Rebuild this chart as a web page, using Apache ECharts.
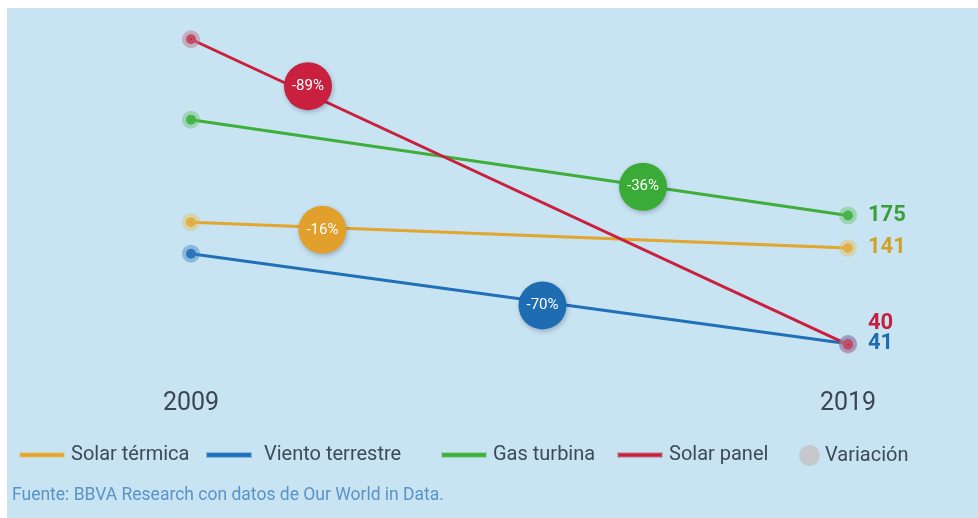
<!DOCTYPE html>
<html>
<head>
<meta charset="utf-8">
<script src="https://cdn.jsdelivr.net/npm/echarts@6/dist/echarts.min.js"></script>
<style>
html,body{margin:0;padding:0;background:#fff;}
#chart{width:978px;height:518px;}
</style>
</head>
<body>
<div id="chart"></div>
<script>
// ---- data ----
const years = [2009, 2019];
const solarTermica = [168, 141];
const vientoTerrestre = [135, 41];
const gasTurbina = [275, 175];
const solarPanel = [359, 40];
// variation bubbles: position along the x scale (year), y value, label
const variacionX = [2011.0, 2014.35, 2015.88, 2010.78];
const variacionY = [160, 81, 205, 310];
const variacionLabels = ['-16%', '-70%', '-36%', '-89%'];
const sourceText = 'Fuente: BBVA Research con datos de Our World in Data.';

const FONT = 'Roboto';
const colors = {
  'Solar térmica': '#e2a52e',
  'Viento terrestre': '#2170b7',
  'Gas turbina': '#3fae3b',
  'Solar panel': '#c9203f'
};
const halo = {
  'Solar térmica': 'rgba(226,190,100,0.45)',
  'Viento terrestre': 'rgba(60,130,200,0.45)',
  'Gas turbina': 'rgba(90,190,90,0.4)',
  'Solar panel': 'rgba(190,120,140,0.5)'
};
const labelColors = {
  'Solar térmica': '#d1a229',
  'Viento terrestre': '#1f6db0',
  'Gas turbina': '#3b9e3b',
  'Solar panel': '#c51f40'
};
const bubbleColors = ['#e0a02b', '#1e6db3', '#3aab36', '#c8203e'];

function lineSeries(name, vals, labelOffset) {
  return {
    name: name,
    type: 'line',
    data: years.map((y, i) => [y, vals[i]]),
    lineStyle: { color: colors[name], width: 3 },
    itemStyle: { color: colors[name], borderColor: halo[name], borderWidth: 8 },
    symbol: 'circle',
    symbolSize: 10,
    showSymbol: true,
    z: 3,
    endLabel: {
      show: true,
      formatter: p => p.value[1],
      color: labelColors[name],
      fontFamily: FONT,
      fontWeight: 'bold',
      fontSize: 22,
      distance: 20,
      offset: labelOffset || [0, 0]
    },
    emphasis: { disabled: true }
  };
}

const chart = echarts.init(document.getElementById('chart'), null, { renderer: 'canvas' });
const legendNames = ['Solar térmica', 'Viento terrestre', 'Gas turbina', 'Solar panel'];
const legendLefts = [14, 201, 436, 612];
const legends = legendNames.map((n, i) => ({
  data: [n],
  left: legendLefts[i],
  top: 440,
  icon: 'rect',
  itemWidth: 44,
  itemHeight: 4,
  itemGap: 8,
  textStyle: { color: '#3d4a57', fontFamily: FONT, fontSize: 20, padding: [0, 0, 0, i === 1 ? 8 : 2] }
}));
legends.push({
  data: ['Variación'],
  left: 794,
  top: 440,
  icon: 'circle',
  itemWidth: 21,
  itemHeight: 21,
  textStyle: { color: '#3d4a57', fontFamily: FONT, fontSize: 20 }
});

chart.setOption({
  backgroundColor: '#ffffff',
  animation: false,
  graphic: [
    { type: 'rect', left: 7, top: 8, shape: { width: 971, height: 510 }, style: { fill: '#c8e4f2' }, z: -10, silent: true },
    { type: 'text', left: 12, top: 487, style: { text: sourceText, fill: '#5a93c6', font: '17.5px ' + FONT }, silent: true }
  ],
  grid: { left: 191, right: 130, top: 0, height: 383 },
  legend: legends,
  xAxis: {
    type: 'value',
    min: 2009,
    max: 2019,
    interval: 1,
    axisLine: { show: false },
    axisTick: { show: false },
    splitLine: { show: false },
    axisLabel: {
      margin: 8,
      color: '#3b4652',
      fontFamily: FONT,
      fontSize: 25,
      formatter: v => (v === years[0] || v === years[1]) ? String(v) : ''
    }
  },
  yAxis: {
    type: 'value',
    min: 0,
    max: 400,
    show: false,
    splitLine: { show: false }
  },
  series: [
    lineSeries('Solar térmica', solarTermica),
    lineSeries('Viento terrestre', vientoTerrestre),
    lineSeries('Gas turbina', gasTurbina),
    lineSeries('Solar panel', solarPanel, [0, -21]),
    {
      name: 'Variación',
      type: 'scatter',
      symbol: 'circle',
      symbolSize: 48,
      z: 5,
      itemStyle: { color: '#c5c8cc', opacity: 1 },
      data: variacionX.map((x, i) => ({
        value: [x, variacionY[i]],
        itemStyle: {
          color: bubbleColors[i],
          opacity: 1,
          shadowBlur: 5,
          shadowColor: 'rgba(0,0,40,0.25)',
          shadowOffsetX: 1,
          shadowOffsetY: 2
        }
      })),
      label: {
        show: true,
        position: 'inside',
        formatter: p => variacionLabels[p.dataIndex],
        color: '#ffffff',
        fontFamily: FONT,
        fontSize: 15
      },
      emphasis: { disabled: true }
    }
  ]
});
</script>
</body>
</html>
